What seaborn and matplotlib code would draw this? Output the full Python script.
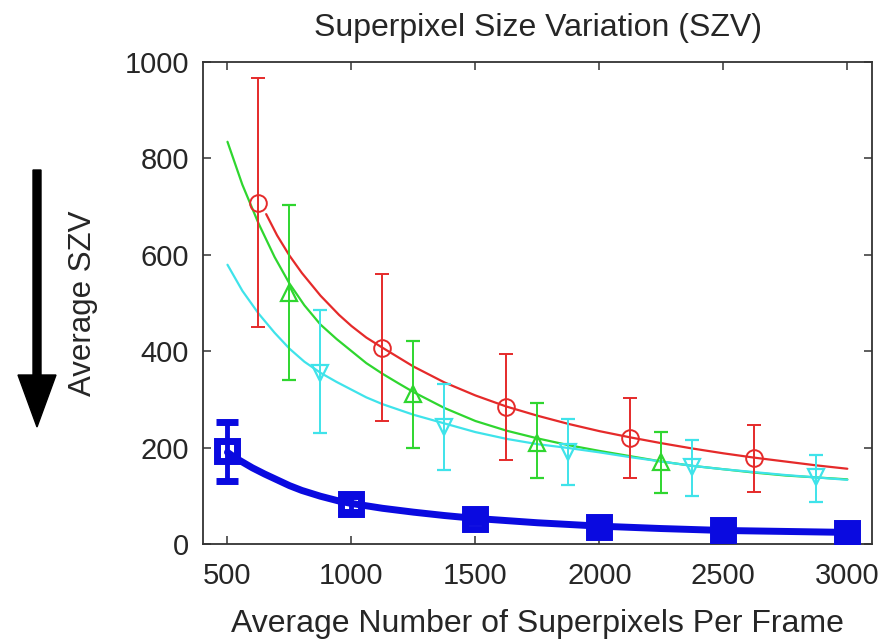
import matplotlib
matplotlib.use("Agg")
import matplotlib.pyplot as plt
from matplotlib.patches import FancyArrow
import pandas as pd
import seaborn as sns

# ---- data ----
# fitted curves
red_x = [656, 700, 750, 800, 875, 950, 1000, 1060, 1125, 1250, 1375, 1500, 1625,
         1750, 1875, 2000, 2125, 2250, 2375, 2500, 2625, 2750, 2875, 3000]
red_y = [684, 640, 598, 562, 515, 475, 452, 428, 407, 368, 335, 308, 285,
         266, 249, 234, 221, 209, 198, 188, 179, 171, 163, 156]
green_x = [500, 560, 625, 690, 750, 810, 875, 940, 1000, 1060, 1125, 1190, 1250,
           1375, 1500, 1625, 1750, 1875, 2000, 2125, 2250, 2375, 2500, 2625,
           2750, 2875, 3000]
green_y = [834, 745, 665, 595, 540, 495, 455, 425, 400, 375, 353, 333, 315,
           282, 255, 235, 219, 205, 193, 182, 171, 162, 155, 148,
           142, 138, 134]
cyan_x = [500, 560, 625, 690, 750, 810, 875, 940, 1000, 1060, 1125, 1250, 1375,
          1500, 1625, 1750, 1875, 2000, 2125, 2250, 2375, 2500, 2625, 2750,
          2875, 3000]
cyan_y = [579, 525, 478, 438, 405, 378, 355, 336, 320, 304, 290, 268, 250,
          232, 218, 207, 199, 190, 180, 171, 162, 155, 149, 143,
          138, 133]
blue_x = [500, 525, 550, 600, 650, 700, 750, 800, 875, 950, 1000, 1125, 1250,
          1375, 1500, 1750, 2000, 2250, 2500, 2750, 3000]
blue_y = [190, 181, 173, 158, 145, 133, 121, 111, 99, 89, 84, 74, 66,
          59, 53, 44, 37, 32, 28, 26, 24]

# measured points with error bars (low, high)
red_px = [625, 1125, 1625, 2125, 2625]
red_pm = [708, 406, 284, 220, 178]
red_lo = [450, 255, 175, 137, 108]
red_hi = [967, 560, 393, 302, 246]

green_px = [750, 1250, 1750, 2250]
green_pm = [520, 310, 210, 170]
green_lo = [340, 199, 137, 105]
green_hi = [703, 421, 292, 232]

cyan_px = [875, 1375, 1875, 2375, 2875]
cyan_pm = [355, 242, 191, 160, 139]
cyan_lo = [230, 153, 122, 100, 87]
cyan_hi = [485, 332, 259, 216, 185]

blue_px = [500, 1000, 1500, 2000, 2500, 3000]
blue_pm = [193, 82, 52, 35, 28, 23]
blue_lo = [130, 66, 45, 30, 24, 20]
blue_hi = [253, 100, 60, 40, 32, 27]

RED = "#e52a2a"
GREEN = "#2fd62f"
CYAN = "#3fe3ea"
BLUE = "#0a0ae0"

sns.set_theme(style="ticks")
plt.rcParams['font.family'] = ['Liberation Sans', 'DejaVu Sans']

fig = plt.figure(figsize=(8.89, 6.43), dpi=100)
ax = fig.add_axes([0.228, 0.154, 0.753, 0.750])

curves = pd.concat([
    pd.DataFrame({"x": red_x, "y": red_y, "s": "red"}),
    pd.DataFrame({"x": green_x, "y": green_y, "s": "green"}),
    pd.DataFrame({"x": cyan_x, "y": cyan_y, "s": "cyan"}),
])
sns.lineplot(data=curves, x="x", y="y", hue="s", palette=[RED, GREEN, CYAN],
             lw=1.6, legend=False, ax=ax, sort=False, estimator=None)
sns.lineplot(x=blue_x, y=blue_y, color=BLUE, lw=5, ax=ax, sort=False, estimator=None)

def points(xs, ms, lo, hi, color, marker, size, lw, capsize, mew, fill="none"):
    yerr = [[m - l for m, l in zip(ms, lo)], [h - m for m, h in zip(ms, hi)]]
    ax.errorbar(xs, ms, yerr=yerr, fmt=marker, color=color, mfc=fill,
                ms=size, mew=mew, elinewidth=lw, capsize=capsize, capthick=lw, zorder=5)

points(red_px, red_pm, red_lo, red_hi, RED, "o", 12, 1.4, 5, 1.4)
points(green_px, green_pm, green_lo, green_hi, GREEN, "^", 12, 1.4, 5, 1.6)
points(cyan_px, cyan_pm, cyan_lo, cyan_hi, CYAN, "v", 12, 1.4, 5, 1.6)
points(blue_px[:3], blue_pm[:3], blue_lo[:3], blue_hi[:3], BLUE, "s", 14, 3.5, 8, 5)
points(blue_px[3:], blue_pm[3:], blue_lo[3:], blue_hi[3:], BLUE, "s", 14, 3.5, 8, 5, BLUE)

ax.set_xlim(400, 3100)
ax.set_ylim(0, 1000)
ax.set_xticks([500, 1000, 1500, 2000, 2500, 3000])
ax.set_yticks([0, 200, 400, 600, 800, 1000])
ax.tick_params(direction="in", length=6, width=1.1, labelsize=21,
               top=True, right=True, color="#333333")
ax.tick_params(axis="x", pad=13)
ax.tick_params(axis="y", pad=10)
for sp in ax.spines.values():
    sp.set_linewidth(1.3)
    sp.set_color("#333333")

ax.set_xlabel("Average Number of Superpixels Per Frame", fontsize=23)
ax.set_ylabel("Average SZV", fontsize=22.5)
ax.xaxis.set_label_coords(0.5, -0.134)
ax.yaxis.set_label_coords(-0.157, 0.5)
fig.text(0.605, 1 - 28 / 643, "Superpixel Size Variation (SZV)", fontsize=23,
         ha="center", va="center")

# the big "lower is better" arrow
fig.add_artist(FancyArrow(0.37, 4.73, 0, -2.57, width=0.08, head_width=0.38,
                          head_length=0.52, length_includes_head=True,
                          color="black", transform=fig.dpi_scale_trans))

fig.savefig("out.png", dpi=100)
